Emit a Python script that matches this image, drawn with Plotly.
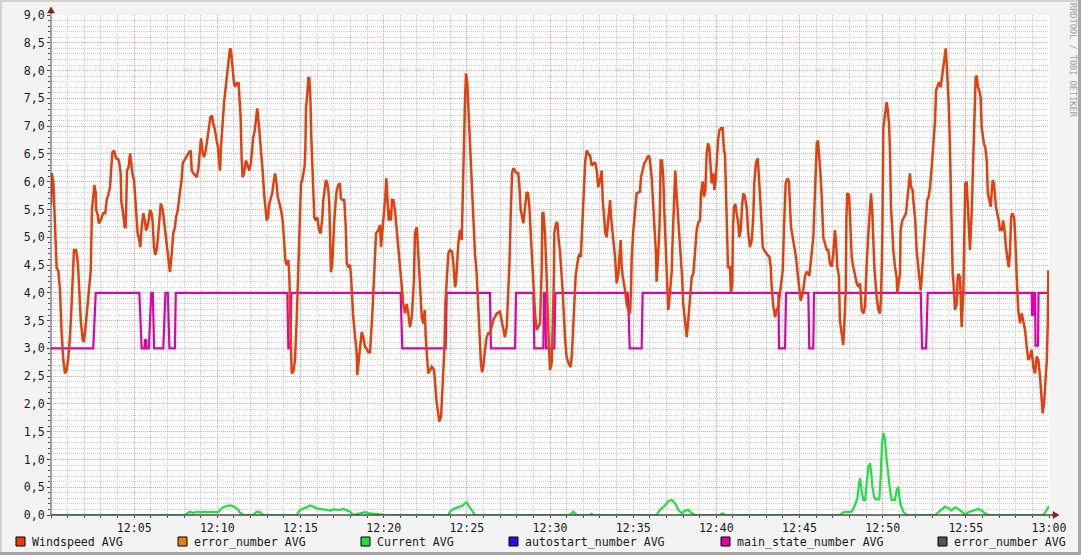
import plotly.graph_objects as go

# ---------------- data (minutes after 12:00) ----------------
wind_t = [0.00,0.04,0.14,0.24,0.34,0.44,0.54,0.64,0.74,0.84,0.94,1.04,1.14,1.24,1.34,1.38,1.50,1.58,1.64,1.79,1.91,1.98,2.06,2.18,2.30,2.39,2.43,2.46,2.57,2.60,2.69,2.72,2.81,2.87,2.95,3.05,3.14,3.26,3.35,3.44,3.55,3.61,3.69,3.79,3.91,4.05,4.11,4.19,4.23,4.31,4.37,4.43,4.49,4.53,4.57,4.67,4.75,4.83,4.89,4.99,5.05,5.11,5.21,5.29,5.37,5.45,5.55,5.65,5.71,5.79,5.87,5.95,6.05,6.11,6.19,6.27,6.35,6.43,6.51,6.60,6.72,6.79,6.90,6.99,7.08,7.15,7.26,7.35,7.45,7.52,7.62,7.68,7.76,7.86,7.92,8.01,8.12,8.19,8.30,8.40,8.46,8.56,8.66,8.76,8.86,8.96,9.02,9.12,9.20,9.30,9.40,9.50,9.58,9.68,9.76,9.86,9.96,10.04,10.10,10.16,10.22,10.30,10.40,10.48,10.56,10.66,10.76,10.82,10.90,11.00,11.08,11.16,11.28,11.34,11.40,11.46,11.52,11.60,11.71,11.80,11.92,12.01,12.08,12.16,12.25,12.32,12.40,12.49,12.57,12.64,12.73,12.81,12.88,12.97,13.05,13.12,13.21,13.30,13.39,13.47,13.55,13.63,13.73,13.83,13.93,14.01,14.09,14.17,14.27,14.33,14.40,14.47,14.57,14.67,14.77,14.87,14.91,14.97,15.03,15.11,15.17,15.25,15.29,15.33,15.41,15.47,15.53,15.59,15.65,15.71,15.77,15.83,15.91,16.01,16.11,16.21,16.31,16.37,16.47,16.53,16.61,16.67,16.73,16.77,16.83,16.91,16.97,17.03,17.12,17.18,17.27,17.37,17.43,17.54,17.63,17.72,17.78,17.87,17.98,18.04,18.17,18.28,18.38,18.41,18.52,18.58,18.68,18.78,18.88,18.98,19.08,19.18,19.24,19.32,19.44,19.48,19.54,19.68,19.78,19.84,19.92,20.02,20.10,20.16,20.22,20.30,20.38,20.44,20.50,20.58,20.68,20.78,20.88,20.94,21.02,21.08,21.18,21.28,21.38,21.48,21.58,21.69,21.75,21.82,21.88,21.99,22.06,22.14,22.18,22.29,22.38,22.47,22.53,22.59,22.68,22.79,22.89,23.03,23.10,23.19,23.28,23.34,23.45,23.51,23.59,23.65,23.71,23.79,23.83,23.89,23.99,24.11,24.19,24.29,24.35,24.39,24.49,24.59,24.69,24.75,24.81,24.89,24.95,25.03,25.09,25.15,25.23,25.29,25.35,25.41,25.49,25.59,25.69,25.79,25.85,25.91,25.99,26.09,26.19,26.29,26.39,26.59,26.80,26.99,27.10,27.19,27.29,27.40,27.46,27.54,27.57,27.64,27.72,27.79,27.90,28.00,28.09,28.15,28.24,28.34,28.40,28.50,28.60,28.68,28.76,28.84,28.90,28.96,29.00,29.10,29.20,29.30,29.40,29.46,29.50,29.54,29.60,29.70,29.76,29.80,29.90,30.00,30.10,30.16,30.20,30.24,30.26,30.36,30.44,30.52,30.60,30.70,30.76,30.90,31.00,31.12,31.24,31.32,31.40,31.50,31.54,31.70,31.80,31.85,31.91,32.00,32.06,32.12,32.21,32.30,32.41,32.51,32.60,32.71,32.81,32.90,33.01,33.11,33.17,33.25,33.33,33.41,33.50,33.61,33.67,33.75,33.81,33.91,34.01,34.11,34.17,34.25,34.31,34.37,34.51,34.61,34.71,34.81,34.87,34.91,35.01,35.11,35.21,35.41,35.47,35.57,35.67,35.77,35.85,35.95,36.01,36.11,36.17,36.25,36.31,36.37,36.41,36.51,36.57,36.61,36.65,36.73,36.81,36.87,36.96,37.02,37.11,37.21,37.32,37.35,37.41,37.47,37.53,37.62,37.70,37.77,37.86,37.94,38.01,38.12,38.22,38.31,38.42,38.52,38.62,38.72,38.82,38.92,39.02,39.08,39.18,39.26,39.34,39.42,39.50,39.58,39.66,39.72,39.82,39.88,39.96,40.02,40.10,40.18,40.28,40.38,40.46,40.52,40.58,40.64,40.70,40.82,40.88,40.96,41.00,41.06,41.14,41.22,41.32,41.38,41.47,41.54,41.62,41.72,41.83,41.92,42.02,42.13,42.22,42.28,42.38,42.49,42.57,42.63,42.73,42.79,42.87,42.97,43.07,43.19,43.27,43.33,43.43,43.53,43.63,43.73,43.83,43.93,43.99,44.07,44.17,44.27,44.37,44.43,44.49,44.59,44.69,44.79,44.87,44.99,45.07,45.21,45.33,45.43,45.53,45.59,45.73,45.83,45.93,46.04,46.11,46.19,46.25,46.34,46.43,46.53,46.64,46.73,46.83,46.94,47.03,47.13,47.19,47.27,47.37,47.43,47.54,47.63,47.69,47.78,47.82,47.87,47.98,48.03,48.14,48.23,48.34,48.44,48.54,48.64,48.74,48.84,48.94,48.98,49.04,49.14,49.24,49.30,49.38,49.44,49.50,49.64,49.74,49.84,49.90,49.94,49.98,50.04,50.14,50.24,50.30,50.38,50.44,50.50,50.58,50.64,50.74,50.84,50.88,50.98,51.04,51.08,51.18,51.28,51.40,51.48,51.56,51.64,51.70,51.80,51.86,51.96,52.04,52.12,52.20,52.29,52.35,52.45,52.55,52.61,52.68,52.77,52.85,52.95,53.05,53.15,53.21,53.29,53.39,53.49,53.57,53.67,53.73,53.79,53.85,53.91,53.97,54.03,54.09,54.15,54.21,54.25,54.35,54.45,54.51,54.57,54.65,54.75,54.85,54.91,54.97,55.05,55.11,55.19,55.25,55.35,55.41,55.47,55.53,55.59,55.65,55.73,55.81,55.89,55.95,56.01,56.09,56.17,56.26,56.32,56.41,56.50,56.56,56.62,56.69,56.75,56.81,56.89,56.98,57.05,57.16,57.25,57.35,57.41,57.49,57.58,57.65,57.72,57.79,57.90,57.96,58.02,58.06,58.15,58.26,58.36,58.45,58.56,58.66,58.76,58.86,58.96,59.06,59.16,59.26,59.36,59.46,59.56,59.62,59.70,59.78,59.87,59.93,59.96]
wind_v = [5.58,6.15,6.00,5.20,4.44,4.40,4.05,3.27,2.79,2.55,2.60,2.84,3.20,3.80,4.40,4.77,4.77,4.64,4.40,3.50,3.15,3.12,3.33,3.69,4.05,4.40,5.00,5.49,5.81,5.94,5.80,5.49,5.40,5.25,5.28,5.36,5.43,5.43,5.67,5.76,5.90,6.20,6.53,6.56,6.42,6.40,6.33,6.15,5.63,5.49,5.25,5.18,5.18,5.94,6.20,6.27,6.51,6.33,6.15,6.03,5.79,5.43,5.07,4.98,4.82,5.18,5.43,5.28,5.12,5.18,5.30,5.49,5.43,5.28,4.82,4.68,4.77,5.00,5.30,5.61,5.49,5.30,5.00,4.77,4.53,4.37,4.71,5.07,5.18,5.36,5.49,5.67,5.82,6.06,6.33,6.38,6.44,6.47,6.53,6.56,6.20,6.15,6.12,6.08,6.23,6.51,6.78,6.53,6.44,6.56,6.74,6.98,7.16,7.19,7.04,6.92,6.74,6.62,6.38,6.20,6.62,7.05,7.41,7.64,7.88,8.13,8.40,8.37,8.04,7.77,7.71,7.77,7.77,7.53,7.16,6.42,6.08,6.14,6.38,6.32,6.20,6.32,6.62,6.80,6.92,7.14,7.32,7.05,6.80,6.44,6.17,5.79,5.55,5.30,5.36,5.60,5.70,5.79,6.00,6.15,6.00,5.73,5.61,5.49,5.30,4.82,4.59,4.50,4.59,4.28,3.30,2.55,2.58,2.79,3.50,4.40,4.77,5.36,5.97,6.03,6.15,6.29,6.56,7.32,7.59,7.86,7.86,7.53,6.80,6.17,5.67,5.36,5.30,5.36,5.13,5.07,5.34,5.67,5.90,6.03,5.97,5.85,5.61,5.13,4.37,4.53,4.95,5.30,5.67,5.85,5.94,5.97,5.70,5.67,5.67,5.19,4.53,4.47,4.50,4.28,3.56,3.20,2.91,2.52,2.84,3.09,3.29,3.20,3.02,2.99,2.93,2.93,3.20,3.63,4.40,4.71,5.07,5.13,5.22,4.82,5.07,5.49,5.73,6.06,5.73,5.30,5.49,5.30,5.67,5.67,5.49,5.13,4.77,4.53,4.30,4.04,3.80,3.63,3.80,3.63,3.38,3.56,3.86,4.22,5.07,5.18,4.82,4.40,4.22,3.56,3.45,3.69,3.20,2.84,2.55,2.61,2.67,2.61,2.25,2.01,1.83,1.68,1.77,2.13,2.49,2.97,3.81,4.28,4.53,4.71,4.77,4.74,4.53,4.10,4.20,4.40,4.89,5.13,4.95,5.67,6.62,7.46,7.95,7.77,7.35,6.96,6.62,6.00,5.61,5.18,4.71,4.35,3.63,3.20,2.73,2.57,2.67,2.97,3.20,3.27,3.27,3.51,3.63,3.66,3.51,3.33,3.20,3.38,3.80,4.28,4.59,5.43,6.15,6.24,6.18,6.15,6.15,5.97,5.49,5.37,5.25,5.55,5.81,5.79,5.55,5.07,4.71,4.30,4.16,3.63,3.33,3.39,3.45,4.04,4.40,5.43,5.45,5.07,4.65,4.28,3.33,2.61,2.73,3.20,3.80,4.40,5.07,5.25,5.27,4.95,4.75,4.30,4.04,3.20,2.84,2.73,2.66,2.90,3.45,4.10,4.30,4.64,4.71,4.64,5.07,5.67,6.03,6.38,6.56,6.50,6.47,6.29,6.32,6.35,6.20,5.90,6.03,6.20,5.67,5.36,5.07,5.00,5.36,5.67,5.36,5.13,4.95,4.64,4.17,4.34,4.64,4.95,4.47,4.30,4.05,3.80,3.69,3.63,4.04,4.64,5.13,5.49,5.79,5.82,6.08,6.20,6.33,6.38,6.44,6.47,6.38,6.08,5.79,5.49,5.07,4.71,4.20,4.71,5.07,5.54,6.38,6.38,6.08,5.49,4.82,4.04,3.69,3.99,4.40,4.77,5.18,5.67,6.20,5.73,5.36,5.07,4.77,4.28,3.80,3.45,3.20,3.50,3.92,4.28,4.35,4.71,5.13,5.27,5.30,5.79,6.00,5.73,5.85,6.51,6.69,6.62,6.15,5.97,6.15,5.85,6.03,6.38,6.74,6.92,6.96,6.96,6.56,6.50,5.67,5.18,4.46,4.46,4.00,4.16,5.18,5.54,5.60,5.43,5.25,5.00,5.13,5.54,5.79,5.73,5.52,5.07,4.82,4.95,5.36,5.97,6.33,6.42,6.08,5.73,5.18,4.82,4.77,4.71,4.68,4.65,4.47,4.10,3.75,3.56,3.69,3.75,4.04,4.28,4.40,5.18,5.97,6.06,6.00,5.55,5.18,5.00,4.82,4.64,4.40,4.10,3.86,4.00,4.30,4.37,4.35,4.30,4.71,5.00,5.79,6.69,6.74,6.50,6.20,5.70,5.00,4.89,4.77,4.77,4.53,4.47,4.71,5.13,4.95,4.47,4.30,3.50,3.20,3.06,3.39,4.04,5.36,5.79,5.76,5.30,4.64,4.47,4.28,4.17,4.11,4.17,3.69,3.63,3.75,4.28,4.53,5.07,5.55,5.79,5.43,5.07,4.46,3.92,3.69,3.63,3.92,4.40,5.00,6.98,7.20,7.43,7.30,7.05,6.56,5.54,5.13,4.77,4.47,4.28,4.00,4.17,4.34,5.13,5.30,5.36,5.43,5.67,5.97,6.15,5.91,5.85,5.61,5.30,4.77,4.47,4.28,4.04,4.28,4.77,5.07,5.49,5.67,5.73,5.91,6.26,6.62,7.10,7.64,7.73,7.79,7.70,7.88,8.13,8.25,8.40,8.13,7.83,7.41,6.80,6.08,4.82,4.34,4.22,3.69,3.80,4.28,4.34,4.28,3.38,4.04,5.07,5.97,6.00,5.55,5.13,4.77,5.43,6.03,6.87,7.52,7.88,7.91,7.70,7.64,7.52,6.98,6.80,6.68,6.62,6.38,5.79,5.67,5.55,5.85,6.03,5.97,5.73,5.55,5.43,5.30,5.13,5.13,5.30,5.07,4.82,4.64,4.46,4.70,5.36,5.43,5.36,5.07,4.46,4.28,3.69,3.45,3.63,3.51,3.33,3.03,2.79,2.85,2.97,2.66,2.55,2.85,2.79,2.49,2.01,1.83,2.01,2.43,2.79,3.50,4.40]

state_t = [0,2.54,2.69,5.31,5.45,5.62,5.65,5.71,5.74,5.88,6.03,6.12,6.20,6.75,6.88,7.02,7.12,7.45,7.50,14.21,14.27,14.40,14.45,21.02,21.12,23.73,23.79,26.39,26.45,27.90,27.96,29.00,29.06,29.60,29.64,29.72,29.76,30.26,30.32,34.67,34.73,34.79,35.51,35.57,43.73,43.77,44.13,44.19,45.53,45.59,45.83,45.87,52.29,52.37,52.61,52.65,52.71,58.96,58.98,59.05,59.08,59.16,59.19,59.34,59.37,60.0]
state_v = [3,3,4,4,3,3,3.15,3.15,3,3,4,4,3,3,4,4,3,3,4,4,3,3,4,4,3,3,4,4,3,3,4,4,3,3,4,4,3,3,4,4,3.6,3,3,4,4,3,3,4,4,3,3,4,4,3,3,3.6,4,4,3.6,3.6,4,4,3.05,3.05,4,4]

current_t = [0,8.06,8.36,8.56,8.76,8.96,10.06,10.16,10.36,10.66,10.86,11.06,11.26,11.36,11.56,12.16,12.37,12.57,12.77,14.77,14.97,15.37,15.57,15.77,15.97,16.37,16.77,16.97,17.38,17.57,17.78,17.98,18.17,18.58,18.88,19.18,19.58,19.98,20.18,23.89,23.99,24.19,24.49,24.69,24.89,24.99,25.09,25.29,25.49,31.20,31.40,31.60,32.40,32.50,32.60,36.41,36.61,36.91,37.11,37.32,37.52,37.72,37.92,38.12,38.31,38.52,38.72,40.22,40.38,40.52,47.43,47.63,47.93,48.14,48.34,48.48,48.58,48.64,48.74,48.84,48.94,49.04,49.14,49.24,49.30,49.38,49.48,49.58,49.80,49.88,49.96,50.04,50.14,50.24,50.34,50.44,50.54,50.74,50.84,50.94,51.00,51.08,51.24,51.44,53.15,53.35,53.55,53.75,53.95,54.15,54.35,54.55,54.75,54.95,55.15,55.45,55.75,55.95,56.15,56.35,59.66,59.86,60.0]
current_v = [0,0,0.06,0.04,0.05,0.05,0.05,0.09,0.14,0.17,0.17,0.14,0.09,0.04,0,0,0.06,0.05,0,0,0.09,0.14,0.17,0.15,0.12,0.10,0.08,0.10,0.09,0.11,0.09,0.06,0,0.03,0.05,0.03,0.02,0.01,0,0,0.06,0.11,0.14,0.16,0.21,0.23,0.18,0.09,0,0,0.06,0,0,0.02,0,0,0.09,0.17,0.25,0.27,0.21,0.09,0.03,0.08,0.09,0.03,0,0,0.03,0,0,0.05,0.06,0.06,0.18,0.30,0.57,0.66,0.42,0.27,0.27,0.57,0.87,0.93,0.81,0.51,0.33,0.28,0.28,0.69,1.29,1.48,1.35,0.99,0.69,0.45,0.27,0.27,0.45,0.51,0.33,0.18,0.06,0,0,0.05,0.09,0.15,0.12,0.08,0.14,0.11,0.06,0.01,0.05,0.08,0.11,0.08,0.03,0,0,0.09,0.16]

x_tickvals = [5, 10, 15, 20, 25, 30, 35, 40, 45, 50, 55, 60]
x_ticktext = ["12:05", "12:10", "12:15", "12:20", "12:25", "12:30",
              "12:35", "12:40", "12:45", "12:50", "12:55", "13:00"]
y_tickvals = [i * 0.5 for i in range(19)]
y_ticktext = [f"{v:.1f}".replace(".", ",") for v in y_tickvals]

legend_names = ["Windspeed AVG", "error_number AVG", "Current AVG",
                "autostart_number AVG", "main_state_number AVG", "error_number AVG"]
legend_colors = ["#E2400E", "#E5800E", "#1EE03E", "#2A10E0", "#E000A8", "#555555"]
legend_px = [16, 178, 361, 509, 721, 938]

# ---------------- layout geometry ----------------
W, H = 1081, 555
L, R, T, B = 51, 1049, 15, 515
PW, PH = R - L, B - T


def px(x):
    return (x - L) / PW


def py(y):
    return (B - y) / PH


MONO = "DejaVu Sans Mono"
fig = go.Figure()

fig.add_trace(go.Scatter(x=current_t, y=current_v, mode="lines",
                         line=dict(color=legend_colors[2], width=2.2), name="Current AVG"))
fig.add_trace(go.Scatter(x=state_t, y=state_v, mode="lines",
                         line=dict(color=legend_colors[4], width=2.2), name="main_state_number AVG"))
fig.add_trace(go.Scatter(x=wind_t, y=wind_v, mode="lines",
                         line=dict(color=legend_colors[0], width=2.5), name="Windspeed AVG"))

shapes = []
annotations = []

# frame (3D-ish border)
shapes.append(dict(type="rect", xref="paper", yref="paper", x0=px(0), x1=px(W), y0=py(2), y1=py(0),
                   fillcolor="#D2D2D2", line=dict(width=0), layer="below"))
shapes.append(dict(type="rect", xref="paper", yref="paper", x0=px(0), x1=px(2), y0=py(H), y1=py(0),
                   fillcolor="#D2D2D2", line=dict(width=0), layer="below"))
shapes.append(dict(type="rect", xref="paper", yref="paper", x0=px(W - 3), x1=px(W), y0=py(H), y1=py(0),
                   fillcolor="#A6A6A6", line=dict(width=0), layer="below"))
shapes.append(dict(type="rect", xref="paper", yref="paper", x0=px(0), x1=px(W), y0=py(H), y1=py(H - 3),
                   fillcolor="#A6A6A6", line=dict(width=0), layer="below"))

# axes lines with arrows
AX = "#4A4A4A"
shapes.append(dict(type="line", xref="paper", yref="paper", x0=px(L), x1=px(L), y0=py(B + 0.5), y1=py(11),
                   line=dict(color=AX, width=1)))
shapes.append(dict(type="line", xref="paper", yref="paper", x0=px(L - 0.5), x1=px(1054), y0=0, y1=0,
                   line=dict(color=AX, width=1.6)))
shapes.append(dict(type="path", xref="paper", yref="paper",
                   path=f"M {px(47.5)} {py(13)} L {px(54.5)} {py(13)} L {px(51)} {py(7)} Z",
                   fillcolor="#8B1A1A", line=dict(color="#8B1A1A", width=0.5)))
shapes.append(dict(type="path", xref="paper", yref="paper",
                   path=f"M {px(1053)} {py(511.5)} L {px(1053)} {py(518.5)} L {px(1059)} {py(515)} Z",
                   fillcolor="#8B1A1A", line=dict(color="#8B1A1A", width=0.5)))

# legend
for name, col, x0 in zip(legend_names, legend_colors, legend_px):
    shapes.append(dict(type="rect", xref="paper", yref="paper", x0=px(x0), x1=px(x0 + 9),
                       y0=py(546), y1=py(537), fillcolor=col, line=dict(color="#000000", width=1)))
    annotations.append(dict(xref="paper", yref="paper", x=px(x0 + 14), y=py(541.5), text=name,
                            showarrow=False, xanchor="left", yanchor="middle",
                            font=dict(family=MONO, size=11.6, color="#1A1A1A")))

# watermark
annotations.append(dict(xref="paper", yref="paper", x=px(1073), y=py(60), text="RRDTOOL / TOBI OETIKER",
                        showarrow=False, textangle=90, xanchor="center", yanchor="middle",
                        font=dict(family=MONO, size=8.6, color="#A0A0A0")))

fig.update_layout(
    width=W, height=H, autosize=False,
    margin=dict(l=L, r=W - R, t=T, b=H - B, pad=0),
    paper_bgcolor="#F3F3F3", plot_bgcolor="#FFFFFF",
    showlegend=False,
    shapes=shapes, annotations=annotations,
    font=dict(family=MONO, size=11.6, color="#1A1A1A"),
)
fig.update_xaxes(
    range=[0, 60], tickmode="array", tickvals=x_tickvals, ticktext=x_ticktext,
    showgrid=True, gridcolor="#E8A0A0", griddash="1px,1px", gridwidth=1,
    ticks="outside", ticklen=2, tickcolor=AX, showline=False, zeroline=False,
    tickfont=dict(family=MONO, size=11.6, color="#1A1A1A"),
    minor=dict(dtick=1, tick0=0, showgrid=True, gridcolor="#CFCFCF", griddash="1px,1px",
               ticks="outside", ticklen=2, tickcolor=AX),
    fixedrange=True, automargin=False,
)
fig.update_yaxes(
    range=[0, 9], tickmode="array", tickvals=y_tickvals, ticktext=y_ticktext,
    showgrid=True, gridcolor="#E8A0A0", griddash="1px,1px", gridwidth=1,
    ticks="outside", ticklen=3, tickcolor=AX, showline=False, zeroline=False,
    tickfont=dict(family=MONO, size=11.6, color="#1A1A1A"),
    minor=dict(dtick=0.1, tick0=0, showgrid=True, gridcolor="#CFCFCF", griddash="1px,1px",
               ticks="outside", ticklen=2, tickcolor=AX),
    fixedrange=True, automargin=False,
)

fig.write_html("out.html", config={"displayModeBar": False},
               post_script="document.body.style.margin='0px';document.body.style.overflow='hidden';")
